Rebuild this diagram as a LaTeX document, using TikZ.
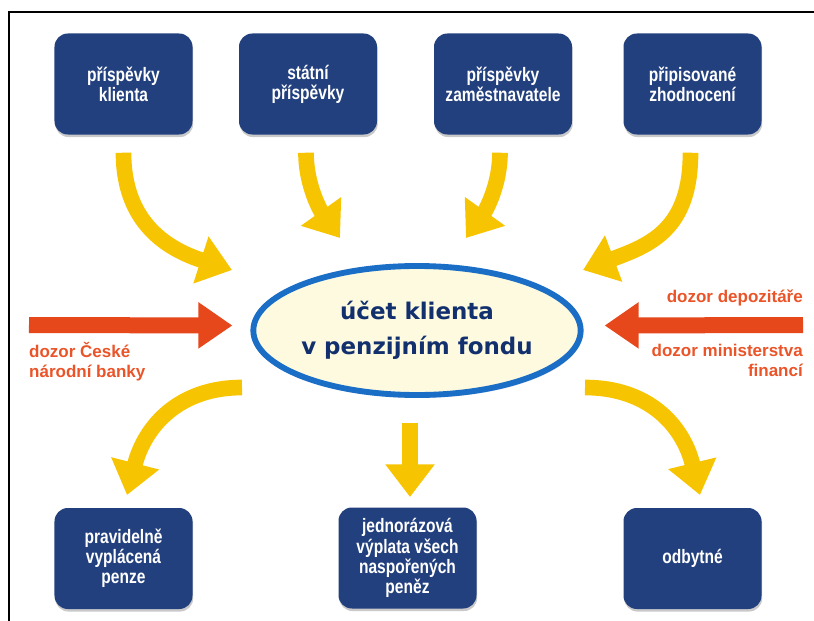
\documentclass[tikz,border=0pt]{standalone}
\usepackage{fontspec}
\setmainfont{Liberation Sans}
\newfontfamily\ovalfont{DejaVu Sans}
\newfontfamily\boxfont[FakeStretch=0.8]{Liberation Sans}
\usetikzlibrary{shapes.geometric,arrows.meta,positioning,calc,shadows}
\definecolor{NB}{HTML}{23407E}
\definecolor{YA}{HTML}{F6C400}
\definecolor{RA}{HTML}{E6481C}
\definecolor{RT}{HTML}{EA5428}
\definecolor{OB}{HTML}{1B6EC6}
\definecolor{OF}{HTML}{FDFADF}
\definecolor{OT}{HTML}{12306E}

\tikzset{
  fundbox/.style={fill=NB, rounded corners=0.4cm,
    minimum width=4.14cm, minimum height=3.03cm, inner sep=2pt,
    text=white, align=center,
    font=\boxfont\bfseries\fontsize{16.6}{17.2}\selectfont,
    drop shadow={shadow xshift=0.6pt, shadow yshift=-2.2pt,
      opacity=0.3, fill=black!70}},
  ucetoval/.style={ellipse, draw=OB, line width=5pt, fill=OF,
    minimum width=9.57cm, minimum height=3.87cm, inner sep=0pt,
    text=OT, align=center,
    font=\ovalfont\bfseries\fontsize{19.6}{29.9}\selectfont,
    drop shadow={shadow xshift=1.5pt, shadow yshift=-2.5pt,
      opacity=0.2, fill=black!60}},
  zarrow/.style={draw=YA, line width=0.47cm,
    -{Triangle[length=0.98cm, width=1.42cm]}},
  rarrow/.style={draw=RA, line width=0.48cm,
    -{Triangle[length=1.02cm, width=1.32cm]}},
  dozortext/.style={text=RT, inner sep=0pt,
    font=\bfseries\fontsize{14.5}{17}\selectfont}
}

\begin{document}
\begin{tikzpicture}[x=0.03cm, y=-0.03cm]
  \useasboundingbox (0,0) rectangle (814,621);

  %% ── frame ─────────────────────────────────────────
  \draw[line width=1.2pt] (9,621) -- (9,12) -- (814,12);

  %% ── contributions (top row) ───────────────────────
  \node[fundbox] (k1) at (123.5,84) {příspěvky\\klienta};
  \node[fundbox] (k2) at (308,84)   {státní\\příspěvky};
  \node[fundbox] (k3) at (503,84)   {příspěvky\\zaměstnavatele};
  \node[fundbox] (k4) at (692.5,84) {připisované\\zhodnocení};

  %% ── client account ────────────────────────────────
  \node[ucetoval] (ucet) at (417,330.5)
    {účet klienta\\v penzijním fondu};

  %% ── payouts (bottom row) ──────────────────────────
  \node[fundbox] (v1) at (123.5,558.5) {pravidelně\\vyplácená\\penze};
  \node[fundbox] (v2) at (407.5,558)
    {jednorázová\\výplata všech\\naspořených\\peněz};
  \node[fundbox] (v3) at (692.5,558.5) {odbytné};

  %% arrow tips
  \coordinate (t1) at (232,270);
  \coordinate (t2) at (340,238);
  \coordinate (t3) at (466,238);
  \coordinate (t4) at (583,270);
  \coordinate (b1) at (127,495);
  \coordinate (b2) at (410,497);
  \coordinate (b3) at (700,495);

  %% ── yellow arrows in ──────────────────────────────
  \draw[zarrow] ($(k1.south)+(0,18)$)
    .. controls +(0,72) and +(-62,-20) .. (t1);
  \draw[zarrow] ($(k2.south)+(-2,18)$)
    .. controls +(0,32) and +(-20,-28) .. (t2);
  \draw[zarrow] ($(k3.south)+(-3,18)$)
    .. controls +(0,32) and +(20,-28) .. (t3);
  \draw[zarrow] ($(k4.south)+(-2,18)$)
    .. controls +(0,77) and +(67,-25) .. (t4);

  %% ── yellow arrows out ─────────────────────────────
  \draw[zarrow] ($(ucet.center)+(-175,57)$)
    .. controls +(-62,0) and +(18,-70) .. (b1);
  \draw[zarrow] ($(ucet.south)+(-7,25)$) -- (b2);
  \draw[zarrow] ($(ucet.center)+(168,57)$)
    .. controls +(63,0) and +(-17,-70) .. (b3);

  %% ── supervision ───────────────────────────────────
  \coordinate (cnbL) at (29,325);
  \coordinate (mfR)  at (803,325);
  \draw[rarrow] (cnbL) -- ($(ucet.west)+(-18,-5)$);
  \draw[rarrow] (mfR)  -- ($(ucet.east)+(21,-5)$);

  \node[dozortext, anchor=west, align=left] (cnb) at (29,362)
    {dozor České\\národní banky};
  \node[dozortext, anchor=east] (dep) at (803,298) {dozor depozitáře};
  \node[dozortext, anchor=east, align=right] (mf) at (803,360)
    {dozor ministerstva\\financí};

\end{tikzpicture}
\end{document}
